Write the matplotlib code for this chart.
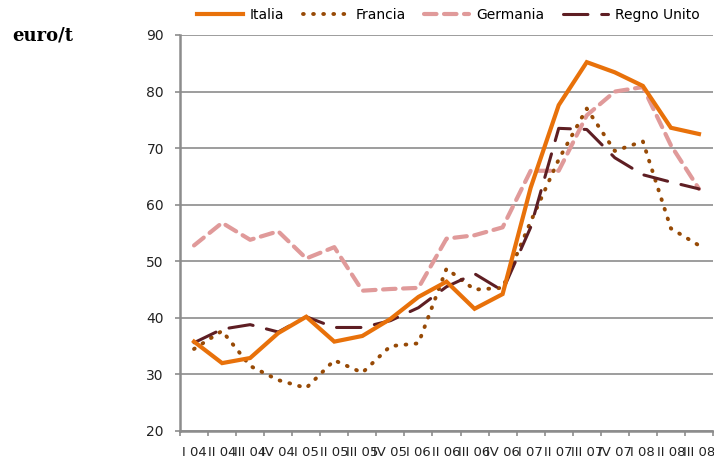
import matplotlib
matplotlib.use('Agg')
import matplotlib.pyplot as plt
import numpy as np

# quarters on the x axis
quarters = ['I 04', 'II 04', 'III 04', 'IV 04', 'I 05', 'II 05', 'III 05', 'IV 05',
            'I 06', 'II 06', 'III 06', 'IV 06', 'I 07', 'II 07', 'III 07', 'IV 07',
            'I 08', 'II 08', 'III 08']

# prices in euro/t
italia = [35.8, 32.0, 32.9, 37.3, 40.2, 35.8, 36.8, 39.8, 43.7, 46.4,
          41.6, 44.2, 63.0, 77.6, 85.2, 83.4, 81.0, 73.6, 72.5]
francia = [34.5, 37.7, 31.5, 29.0, 27.6, 32.5, 30.3, 35.0, 35.5, 48.7,
           45.0, 45.3, 57.0, 68.0, 77.0, 69.5, 71.2, 55.8, 52.8]
germania = [52.8, 56.8, 53.8, 55.3, 50.5, 52.5, 44.8, 45.1, 45.3, 54.0,
            54.6, 56.0, 66.0, 66.0, 75.8, 80.0, 80.8, 70.5, 62.8]
regno_unito = [35.6, 38.0, 38.8, 37.5, 40.2, 38.3, 38.3, 39.5, 41.8, 45.5,
               47.8, 44.8, 56.0, 73.5, 73.3, 68.3, 65.3, 64.0, 62.8]

plt.rcParams['font.family'] = ['DejaVu Sans']

fig = plt.figure(figsize=(7.14, 4.62), dpi=100)
ax = fig.add_axes([180 / 714, 1 - 431 / 462, 533 / 714, 396 / 462])

x = np.arange(len(quarters))
grid_col = '#8c8c8c'

ax.plot(x, italia, color='#e8710a', lw=3.0, solid_joinstyle='miter', label='Italia', zorder=5)
ax.plot(x, francia, color='#974a06', lw=2.8, linestyle=(0, (0.2, 2.4)),
        dash_capstyle='round', label='Francia', zorder=3)
ax.plot(x, germania, color='#e09a9a', lw=3.0, linestyle=(0, (3, 1.8)),
        dash_capstyle='round', label='Germania', zorder=2)
ax.plot(x, regno_unito, color='#5e1e23', lw=2.2, linestyle=(0, (8, 4.5)),
        dash_capstyle='round', label='Regno Unito', zorder=4)

ax.set_xlim(-0.5, len(quarters) - 0.5)
ax.set_ylim(20, 90)

# y axis
ax.set_yticks(np.arange(20, 91, 10))
ax.tick_params(axis='y', direction='out', length=3.6, width=1.2, color=grid_col,
               labelsize=10, pad=8, labelcolor='#222222')
ax.yaxis.grid(True, color=grid_col, lw=1.2)
ax.set_axisbelow(True)

# x axis: tick marks between categories, labels on categories
ax.set_xticks(np.arange(-0.5, len(quarters), 1.0))
ax.set_xticklabels([])
ax.set_xticks(x, minor=True)
ax.set_xticklabels(quarters, minor=True)
ax.tick_params(axis='x', which='major', direction='out', length=3.6, width=1.2, color=grid_col)
ax.tick_params(axis='x', which='minor', length=0, labelsize=9.5, pad=11, labelcolor='#222222')

for side in ['top', 'right']:
    ax.spines[side].set_visible(False)
for side in ['left', 'bottom']:
    ax.spines[side].set_color(grid_col)
    ax.spines[side].set_linewidth(1.8)

ax.legend(loc='center', bbox_to_anchor=(0.504, 1.05), ncol=4, frameon=False,
          fontsize=10, handlelength=3.3, handletextpad=0.5, columnspacing=1.3)

fig.text(12 / 714, 1 - 40 / 462, 'euro/t', family='DejaVu Serif', fontweight='bold',
         fontsize=13, va='baseline', ha='left')

fig.savefig('out.png', dpi=100)
